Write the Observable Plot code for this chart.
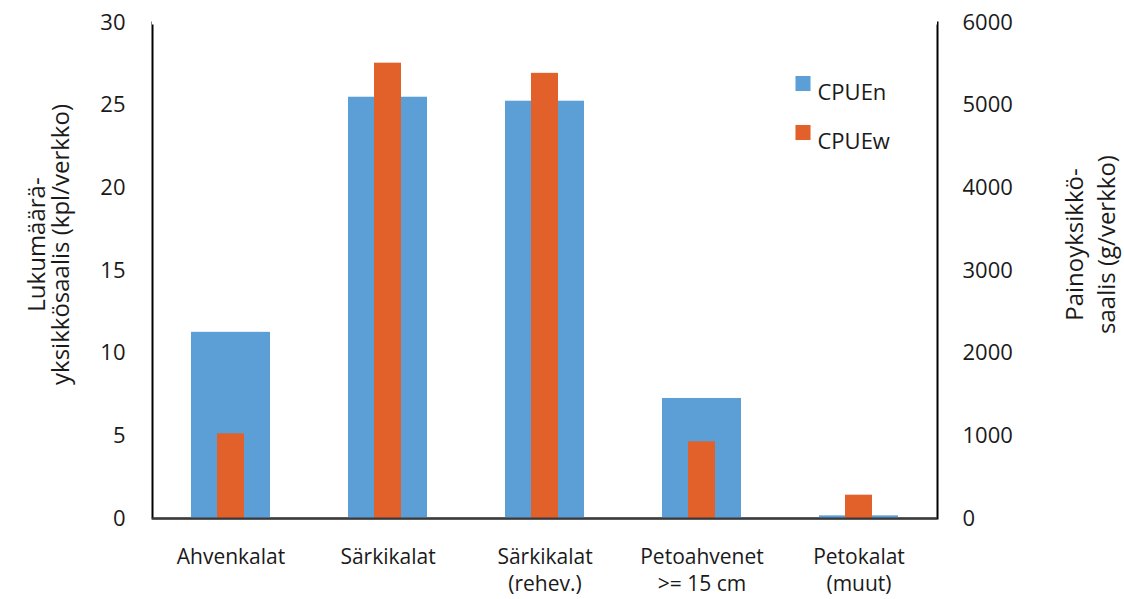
<!DOCTYPE html>
<html>
<head>
<meta charset="utf-8">
<script src="https://cdn.jsdelivr.net/npm/d3@7"></script>
<script src="https://cdn.jsdelivr.net/npm/@observablehq/plot@0.6"></script>
<style>
  html, body { margin: 0; padding: 0; background: #fff; }
  #chart { width: 1124px; height: 599px; }
</style>
</head>
<body>
<div id="chart"></div>
<script>
const categories = ["Ahvenkalat", "Särkikalat", "Särkikalat\n(rehev.)", "Petoahvenet\n>= 15 cm", "Petokalat\n(muut)"];
const cpueN = [11.26, 25.48, 25.24, 7.26, 0.16];      // kpl/verkko (left axis)
const cpueW = [1024, 5508, 5385, 927, 282];           // g/verkko (right axis)
const leftTicks = [0, 5, 10, 15, 20, 25, 30];
const rightTicks = [0, 1000, 2000, 3000, 4000, 5000, 6000];
const seriesNames = ["CPUEn", "CPUEw"];
const colors = ["#5B9FD6", "#E2612A"];
const leftTitle = "Lukumäärä-\nyksikkösaalis (kpl/verkko)";
const rightTitle = "Painoyksikkö-\nsaalis (g/verkko)";

const ratio = rightTicks[rightTicks.length - 1] / leftTicks[leftTicks.length - 1];
const rows = categories.map((c, i) => ({cat: c, n: cpueN[i], w: cpueW[i]}));
const legend = seriesNames.map((s, i) => ({name: s, color: colors[i], i}));
const font = "'Open Sans', 'Noto Sans', sans-serif";
const ink = "#1a1a1a";

const chart = Plot.plot({
  width: 1124,
  height: 599,
  marginLeft: 152,
  marginRight: 187,
  marginTop: 22,
  marginBottom: 81,
  style: {fontFamily: font, fontSize: "22px", color: ink, background: "#fff"},
  x: {domain: categories, paddingInner: 0.5, paddingOuter: 0.25, label: null},
  y: {domain: [0, 30], label: null},
  marks: [
    Plot.frame({stroke: "#000", strokeWidth: 2}),
    Plot.ruleY([30], {stroke: "#fff", strokeWidth: 4}),
    Plot.barY(rows, {x: "cat", y: "n", fill: colors[0]}),
    Plot.barY(rows, {x: "cat", y: d => d.w / ratio, fill: colors[1], insetLeft: 26, insetRight: 26}),
    Plot.ruleY([0], {stroke: "#3a3a3a", strokeWidth: 2}),
    Plot.axisY(leftTicks, {anchor: "left", tickSize: 0, tickPadding: 27, fontSize: 22, fill: ink, label: null}),
    Plot.axisY(rightTicks.map(t => t / ratio), {anchor: "right", tickSize: 0, tickPadding: 25, fontSize: 22, fill: ink, tickFormat: d => String(Math.round(d * ratio)), label: null}),
    Plot.axisX({tickSize: 0, tickPadding: 27, fontSize: 21, lineHeight: 1.27, fill: ink, label: null}),
    Plot.text([leftTitle], {frameAnchor: "left", dx: -103, dy: -26, rotate: -90, fontSize: 24, lineHeight: 1.0, textAnchor: "middle", fill: ink}),
    Plot.text([rightTitle], {frameAnchor: "right", dx: 151, dy: -26, rotate: -90, fontSize: 24, lineHeight: 1.33, textAnchor: "middle", fill: ink}),
    Plot.dot(legend.filter(d => d.i === 0), {frameAnchor: "top-left", dx: 650.5, dy: 61, symbol: "square", r: 8.5, fill: "color"}),
    Plot.dot(legend.filter(d => d.i === 1), {frameAnchor: "top-left", dx: 650.5, dy: 110, symbol: "square", r: 8.5, fill: "color"}),
    Plot.text(legend.filter(d => d.i === 0), {text: "name", frameAnchor: "top-left", dx: 665, dy: 62, textAnchor: "start", fontSize: 22, fill: ink}),
    Plot.text(legend.filter(d => d.i === 1), {text: "name", frameAnchor: "top-left", dx: 665, dy: 111, textAnchor: "start", fontSize: 22, fill: ink})
  ]
});
document.getElementById("chart").appendChild(chart);
</script>
</body>
</html>
